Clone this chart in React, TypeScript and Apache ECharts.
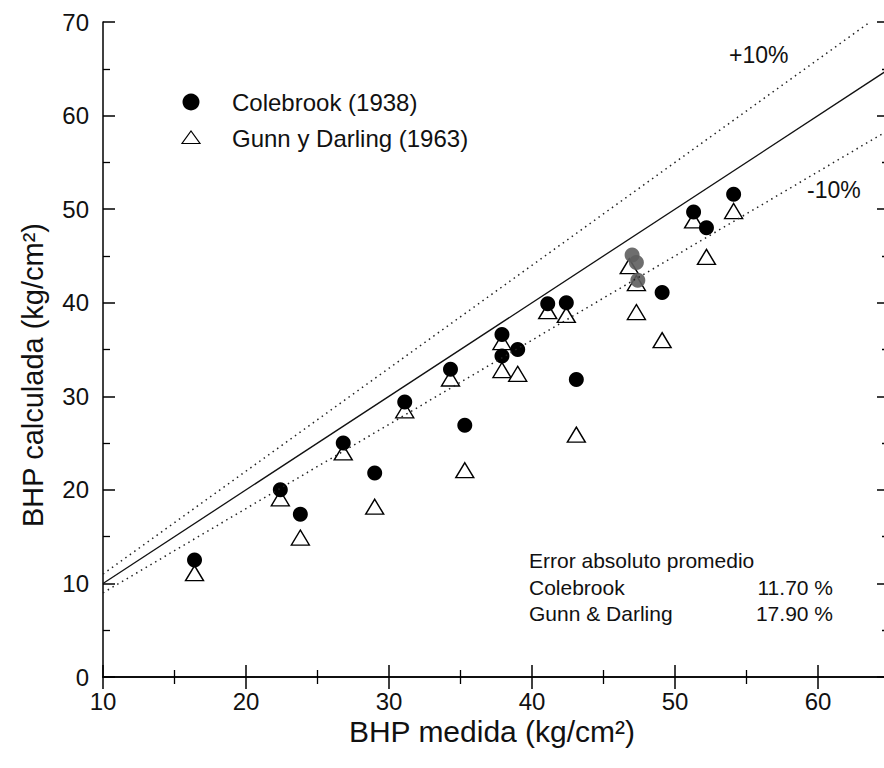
import React, { useEffect, useRef } from "react";
import * as echarts from "echarts";

// measured BHP (x) vs calculated BHP (y), kg/cm2
const colebrook: number[][] = [
  [16.4, 12.5], [22.4, 20.0], [23.8, 17.4], [26.8, 25.0], [29.0, 21.8],
  [31.1, 29.4], [34.3, 32.9], [35.3, 26.9], [37.9, 36.6], [37.9, 34.3],
  [39.0, 35.0], [41.1, 39.9], [42.4, 40.0], [43.1, 31.8], [49.1, 41.1],
  [51.3, 49.7], [52.2, 48.0], [54.1, 51.6],
];
// overlapping (greyish) Colebrook points
const colebrookGrey: number[][] = [
  [47.0, 45.1], [47.3, 44.3], [47.4, 42.4],
];
const gunnDarling: number[][] = [
  [16.4, 11.1], [22.4, 19.1], [23.8, 14.9], [26.8, 24.0], [29.0, 18.2],
  [31.1, 28.5], [34.3, 31.9], [35.3, 22.1], [37.9, 35.8], [37.9, 32.8],
  [39.0, 32.4], [41.1, 39.1], [42.4, 38.7], [43.1, 25.9], [46.8, 43.9],
  [47.3, 42.1], [47.3, 39.0], [49.1, 36.0], [51.3, 48.8], [52.2, 44.9],
  [54.1, 49.8],
];
// reference lines: y = x, +10 %, -10 %
const lineEqual: number[][] = [[10, 10], [65, 65]];
const linePlus10: number[][] = [[10, 11], [63.64, 70]];
const lineMinus10: number[][] = [[10, 9], [65, 58.5]];

const legendNames = ["Colebrook (1938)", "Gunn y Darling (1963)"];
const errorTitle = "Error absoluto promedio";
const errorNames = ["Colebrook", "Gunn & Darling"];
const errorValues = ["11.70 %", "17.90 %"];
const xTitle = "BHP medida (kg/cm²)";
const yTitle = "BHP calculada (kg/cm²)";

const FONT = "'Liberation Sans', Arial, Helvetica, sans-serif";

export default function App() {
  const ref = useRef<HTMLDivElement>(null);
  useEffect(() => {
    if (!ref.current) return;
    const chart = echarts.init(ref.current, undefined, { renderer: "svg" });
    const axisLine = { show: true, lineStyle: { color: "#000", width: 1.5 } };
    const tick = { show: true, inside: true, length: 12, lineStyle: { color: "#000", width: 1.5 } };
    const minor = { show: true, splitNumber: 2, length: 7, lineStyle: { color: "#000", width: 1.3 } };
    const label = { fontSize: 24, color: "#111", fontFamily: FONT };
    const txt = (x: number, y: number, text: string, size: number, align = "left") => ({
      type: "text",
      x,
      y,
      style: { text, fontSize: size, fontFamily: FONT, fill: "#111", textAlign: align, textVerticalAlign: "middle" },
    });
    chart.setOption({
      animation: false,
      backgroundColor: "#fff",
      // x axis runs to 70 so its right end (and the frame's right side) falls just outside the 884px view
      grid: { left: 103, top: 22, right: 9, bottom: 91, containLabel: false },
      xAxis: [
        {
          type: "value", min: 10, max: 70, interval: 10, position: "bottom",
          axisLine, axisTick: tick, minorTick: minor,
          axisLabel: { ...label, margin: 12, showMaxLabel: false },
          splitLine: { show: false },
        },
        {
          type: "value", min: 10, max: 70, interval: 10, position: "top",
          axisLine, axisTick: tick, minorTick: minor,
          axisLabel: { show: false }, splitLine: { show: false },
        },
      ],
      yAxis: [
        {
          type: "value", min: 0, max: 70, interval: 10, position: "left",
          axisLine, axisTick: tick, minorTick: minor,
          axisLabel: { ...label, margin: 14 },
          splitLine: { show: false },
        },
        {
          type: "value", min: 0, max: 70, interval: 10, position: "right", offset: -72,
          axisLine, axisTick: tick, minorTick: minor,
          axisLabel: { show: false }, splitLine: { show: false },
        },
      ],
      series: [
        {
          type: "line", data: lineEqual, showSymbol: false, silent: true,
          lineStyle: { color: "#111", width: 1.3 },
        },
        {
          type: "line", data: linePlus10, showSymbol: false, silent: true,
          lineStyle: { color: "#222", width: 1.5, type: [1.5, 4] },
        },
        {
          type: "line", data: lineMinus10, showSymbol: false, silent: true,
          lineStyle: { color: "#222", width: 1.5, type: [1.5, 4] },
        },
        {
          name: legendNames[1], type: "scatter", data: gunnDarling,
          symbol: "triangle", symbolSize: [18, 15],
          itemStyle: { color: "#fff", borderColor: "#000", borderWidth: 1.4, opacity: 1 },
        },
        {
          name: legendNames[0], type: "scatter", data: colebrook,
          symbol: "circle", symbolSize: 15, itemStyle: { color: "#000", opacity: 1 },
        },
        {
          name: legendNames[0], type: "scatter", data: colebrookGrey,
          symbol: "circle", symbolSize: 15, itemStyle: { color: "#5e5e5e", opacity: 0.9 },
        },
      ],
      graphic: [
        { type: "circle", shape: { cx: 191, cy: 102, r: 8.5 }, style: { fill: "#000" } },
        {
          type: "polygon",
          shape: { points: [[182, 143.5], [200, 143.5], [191, 131]] },
          style: { fill: "#fff", stroke: "#000", lineWidth: 1.2 },
        },
        txt(232, 102, legendNames[0], 24),
        txt(232, 138, legendNames[1], 24),
        txt(729, 55, "+10%", 23),
        txt(807, 190, "-10%", 23),
        txt(529, 560, errorTitle, 21),
        txt(529, 587, errorNames[0], 21),
        txt(529, 613, errorNames[1], 21),
        txt(833, 587, errorValues[0], 21, "right"),
        txt(833, 613, errorValues[1], 21, "right"),
        txt(492, 731, xTitle, 30, "center"),
        {
          type: "text", x: 33, y: 375, rotation: Math.PI / 2,
          style: { text: yTitle, fontSize: 29, fontFamily: FONT, fill: "#111", textAlign: "center", textVerticalAlign: "middle" },
        },
      ],
    });
    return () => chart.dispose();
  }, []);
  return (
    <div style={{ position: "fixed", left: 0, top: 0, width: 884, height: 768, overflow: "hidden", background: "#fff" }}>
      <div ref={ref} style={{ width: 970, height: 768 }} />
    </div>
  );
}
